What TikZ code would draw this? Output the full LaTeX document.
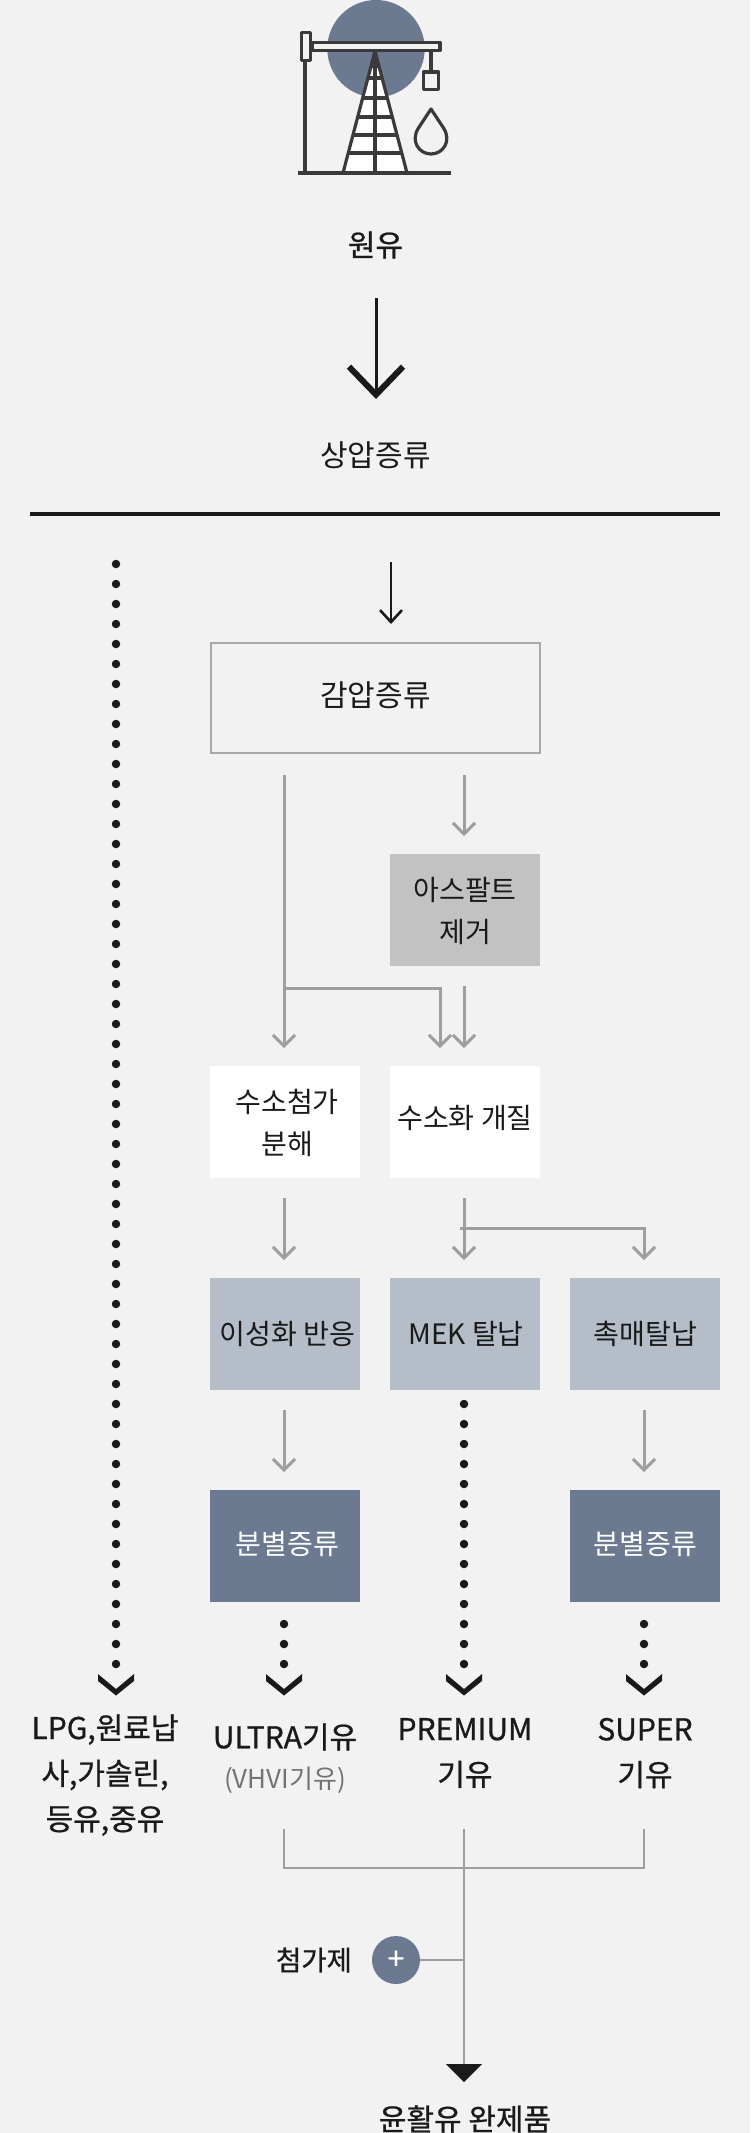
\documentclass[tikz,border=0pt]{standalone}
\usepackage{fontspec}
\usetikzlibrary{arrows.meta}
\setmainfont{Noto Sans CJK KR}
\newfontfamily\medfont[FakeBold=0.8]{Noto Sans CJK KR}
\definecolor{bg}{HTML}{F2F2F2}
\definecolor{ink}{HTML}{1A1A1A}
\definecolor{icon}{HTML}{3A3A3A}
\definecolor{slate}{HTML}{6B7A90}
\definecolor{pale}{HTML}{B5BDC8}
\definecolor{midgray}{HTML}{C2C2C2}
\definecolor{conn}{HTML}{9E9E9E}
\tikzset{
  txt/.style={inner sep=0pt,align=center,text=ink,font=\fontsize{28.1}{42}\selectfont},
  bigtxt/.style={txt,font=\fontsize{30}{42}\selectfont},
  medtxt/.style={inner sep=0pt,align=center,text=ink,font=\fontsize{30}{45.5}\selectfont\medfont},
  boxn/.style={inner sep=0pt,minimum width=150pt,minimum height=112pt},
  grayarrow/.style={draw=conn,line width=3pt,-{Straight Barb[length=11pt,width=22pt,line width=3pt]}},
  thinline/.style={draw=conn,line width=2pt},
  blackarrow/.style={draw=ink,line width=2.4pt,-{Straight Barb[length=12pt,width=22pt,line width=2.6pt]}},
  bigarrow/.style={draw=ink,line width=3pt,-{Straight Barb[length=28pt,width=54pt,line width=6pt]}},
  dotted line/.style={draw=ink,line width=8.5pt,line cap=round,dash pattern=on 0pt off 20pt},
  iconline/.style={draw=icon,line width=3.2pt,line join=round},
  chev/.pic={\fill[ink] (-18,-11)--(0,4)--(18,-11)--(18,-4)--(0,10.5)--(-18,-4)--cycle;}
}
\begin{document}
\begin{tikzpicture}[x=1pt,y=-1pt]
\useasboundingbox (0,0) rectangle (750,2133);
\fill[bg] (0,0) rectangle (750,2133);
% icon
\fill[slate] (376,48.7) circle (48.7);
\path[iconline,fill=white] (375,51) -- (343,173) -- (407,173) -- cycle;
\draw[iconline] (375,51) -- (375,173);
\draw[iconline] (367.5,78) -- (382.5,78) (362.5,98) -- (387.5,98) (357.5,117) -- (392.5,117) (352.5,135) -- (397.5,135) (347.5,153) -- (402.5,153);
\fill[icon] (375,51) -- (370,68) -- (380,68) -- cycle;
\draw[iconline] (305,61) -- (305,173);
\draw[iconline] (298,173) -- (451,173);
\path[iconline,fill=bg] (312,42.5) rectangle (440,50.5);
\path[iconline,fill=bg] (301.5,32.5) rectangle (310.5,60.5);
\draw[iconline] (431,50.5) -- (431,72);
\path[iconline,fill=bg] (423.5,72) rectangle (438.5,89.5);
\draw[iconline] (431,109) -- (418.5,128) .. controls (410,141) and (419,154) .. (431,154) .. controls (443,154) and (452,141) .. (443.5,128) -- cycle;
% top
\node[medtxt] (crude) at (375.5,245) {원유};
\coordinate (bigS) at (376,298);
\coordinate (bigE) at (376,399);
\draw[bigarrow] (bigS) -- (bigE);
\node[bigtxt] (atm) at (375.5,455) {상압증류};
\coordinate (divL) at (30,514);
\coordinate (divR) at (720,514);
\draw[draw=ink,line width=4pt] (divL) -- (divR);
\coordinate (topS) at (391,562);
\coordinate (topE) at (391,624);
\draw[blackarrow] (topS) -- (topE);
% boxes
\node[boxn,minimum width=329pt,minimum height=110pt,draw=conn!90,line width=2pt] (vac) at (375,698) {};
\node[bigtxt] (vact) at (375.5,695) {감압증류};
\node[boxn,fill=midgray] (asp) at (465,910) {};
\node[txt] (aspt) at (465,911) {아스팔트\\제거};
\node[boxn,fill=white] (hc) at (285,1122) {};
\node[txt] (hct) at (287,1123) {수소첨가\\분해};
\node[boxn,fill=white] (hf) at (465,1122) {};
\node[txt] (hft) at (465,1118) {수소화 개질};
\node[boxn,fill=pale] (iso) at (285,1334) {};
\node[txt] (isot) at (287.5,1334) {이성화 반응};
\node[boxn,fill=pale] (mek) at (465,1334) {};
\node[txt] (mekt) at (466,1334) {MEK 탈납};
\node[boxn,fill=pale] (cat) at (645,1334) {};
\node[txt] (catt) at (645.5,1334) {촉매탈납};
\node[boxn,fill=slate] (fr1) at (285,1546) {};
\node[txt,text=white] (fr1t) at (287.5,1544) {분별증류};
\node[boxn,fill=slate] (fr2) at (645,1546) {};
\node[txt,text=white] (fr2t) at (645.5,1544) {분별증류};
% gray arrows
\coordinate (a1) at (284,775); \coordinate (a1e) at (284,1048);
\draw[grayarrow] (a1) -- (a1e);
\coordinate (br1) at (284,988); \coordinate (br1e) at (440,1048);
\draw[grayarrow] (br1) -| (br1e);
\coordinate (a2) at (464,986); \coordinate (a2e) at (464,1048);
\draw[grayarrow] (a2) -- (a2e);
\coordinate (a3) at (464,775); \coordinate (a3e) at (464,836);
\draw[grayarrow] (a3) -- (a3e);
\coordinate (a4) at (284,1198); \coordinate (a4e) at (284,1260);
\draw[grayarrow] (a4) -- (a4e);
\coordinate (a5) at (464,1198); \coordinate (a5e) at (464,1260);
\draw[grayarrow] (a5) -- (a5e);
\coordinate (br2) at (460,1228); \coordinate (br2e) at (644,1260);
\draw[grayarrow] (br2) -| (br2e);
\coordinate (a6) at (284,1410); \coordinate (a6e) at (284,1472);
\draw[grayarrow] (a6) -- (a6e);
\coordinate (a7) at (644,1410); \coordinate (a7e) at (644,1472);
\draw[grayarrow] (a7) -- (a7e);
% dotted
\coordinate (d1) at (116,564); \coordinate (d1e) at (116,1664.5);
\draw[dotted line] (d1) -- (d1e);
\coordinate (d2) at (284,1624); \coordinate (d2e) at (284,1664.5);
\draw[dotted line] (d2) -- (d2e);
\coordinate (d3) at (464,1404); \coordinate (d3e) at (464,1664.5);
\draw[dotted line] (d3) -- (d3e);
\coordinate (d4) at (644,1624); \coordinate (d4e) at (644,1664.5);
\draw[dotted line] (d4) -- (d4e);
\foreach \c in {116,284,464,644} \pic at (\c,1685) {chev};
% outputs
\node[medtxt] (lpg) at (105,1775) {LPG,원료납\\사,가솔린,\\등유,중유};
\node[medtxt] (ultra) at (285,1737) {ULTRA기유};
\node[inner sep=0pt,text=black!55,font=\fontsize{26}{30}\selectfont] (vhvi) at (285,1780) {(VHVI기유)};
\node[medtxt] (prem) at (465,1753) {PREMIUM\\기유};
\node[medtxt] (sup) at (645,1753) {SUPER\\기유};
% bracket
\coordinate (b1) at (284,1829); \coordinate (b2) at (464,1829); \coordinate (b3) at (644,1829);
\coordinate (bm) at (464,1868);
\coordinate (end) at (464,2066);
\draw[thinline] (b1) |- (bm) -| (b3);
\draw[thinline] (b2) -- (end);
\node[circle,fill=slate,minimum size=48pt,inner sep=0pt,text=white,font=\fontsize{30}{30}\selectfont\medfont] (plus) at (396,1960) {+};
\coordinate (j) at (464,1960);
\draw[thinline] (plus) -- (j);
\node[medtxt,font=\fontsize{27.5}{30}\selectfont\medfont] (add) at (314,1960) {첨가제};
\fill[ink] (446,2064) -- (482,2064) -- (464,2082) -- cycle;
\node[medtxt] (final) at (465,2119) {윤활유 완제품};
\end{tikzpicture}
\end{document}
